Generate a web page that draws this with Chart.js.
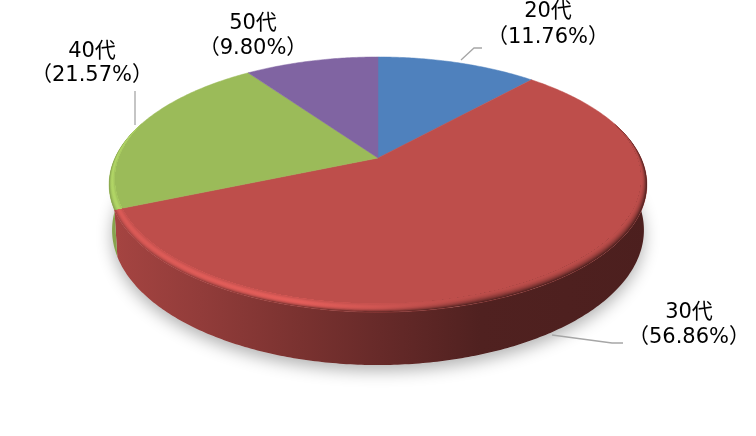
<!DOCTYPE html>
<html>
<head>
<meta charset="utf-8">
<style>
  html, body { margin: 0; background: #fff; }
  canvas { display: block; }
</style>
<script src="https://cdn.jsdelivr.net/npm/chart.js@4/dist/chart.umd.js"></script>
</head>
<body>
<canvas id="pie" width="756" height="436"></canvas>
<script>
// ---------- Data ----------
const categories = ["20代", "30代", "40代", "50代"];
const shares = [11.76, 56.86, 21.57, 9.80];
const colors = ["#4F81BD", "#BE4E4B", "#9BBB59", "#8064A2"];

// ---------- Label layout (text centre, two baselines, leader line) ----------
const labelX = [548, 689, 92, 253];
const labelY = [[17, 43], [318, 343], [57, 81], [29, 54]];
const leaders = [
    [[461, 60], [474, 48], [482, 48]],
    [[552, 335], [612, 343], [623, 343]],
    [[135, 91], [135, 125]],
    []
];

// ---------- Projection of the tilted disc ----------
const PERSPECTIVE = -0.208;
const TILT = 0.464;
const BEVEL = 0.055;

// side shading: [x, how much darker than the face, how bright the rim is]
const wallShade = [
    [105, 0.12, 0.5],
    [200, 0.23, 0.65],
    [300, 0.36, 0.75],
    [380, 0.46, 0.45],
    [480, 0.58, 0],
    [655, 0.6, 0]
];

// g.bevel is 0 on the outer edge, and the inset fades out towards the back of the disc
function project(theta, g) {
    const depth = -Math.cos(theta);
    const inset = (g.bevel || 0) * Math.max(0, (depth + 0.3) / 1.3);
    const k = 1 - inset;
    const w = 1 + PERSPECTIVE * depth;
    return [g.cx + g.r * k * Math.sin(theta) / w, g.cy + g.r * k * TILT * g.squash * depth / w];
}

function trace(ctx, from, to, g) {
    const steps = Math.max(4, Math.ceil(Math.abs(to - from) * 90));
    for (let i = 0; i <= steps; i++) {
        const p = project(from + (to - from) * i / steps, g);
        ctx.lineTo(p[0], p[1]);
    }
}

function rgb(hex) {
    return [1, 3, 5].map(i => parseInt(hex.substr(i, 2), 16));
}

function mix(a, b, t) {
    return a.map((v, i) => v + (b[i] - v) * t);
}

function css(c) {
    return "rgb(" + c.map(v => Math.min(255, Math.round(v))).join(",") + ")";
}

const disc3d = {
    id: "disc3d",
    beforeDatasetDraw(chart) {
        const ctx = chart.ctx;
        const arcs = chart.getDatasetMeta(0).data;
        const a0 = arcs[0];
        const outer = { cx: a0.x, cy: a0.y, r: a0.outerRadius, squash: 1 };
        const base = { cx: a0.x, cy: a0.y + 44, r: a0.outerRadius * 0.989, squash: 1.07 };

        ctx.save();

        // soft shadow under the disc
        ctx.save();
        ctx.shadowColor = "rgba(0,0,0,0.3)";
        ctx.shadowBlur = 16;
        ctx.shadowOffsetY = 6;
        ctx.fillStyle = "#ddd";
        ctx.beginPath();
        trace(ctx, 0, Math.PI * 2, base);
        ctx.closePath();
        ctx.fill();
        ctx.restore();

        // front wall, only the part that faces the viewer
        arcs.forEach((arc, i) => {
            const from = Math.max(arc.startAngle + Math.PI / 2, 80 * Math.PI / 180);
            const to = Math.min(arc.endAngle + Math.PI / 2, 285 * Math.PI / 180);
            if (to <= from) return;
            const face = rgb(colors[i]);
            const grad = ctx.createLinearGradient(105, 0, 655, 0);
            wallShade.forEach(s => grad.addColorStop((s[0] - 105) / 550, css(mix(face, [0, 0, 0], s[1]))));
            ctx.fillStyle = grad;
            ctx.beginPath();
            trace(ctx, from, to, outer);
            trace(ctx, to, from, base);
            ctx.closePath();
            ctx.fill();
        });

        // flat top face
        arcs.forEach((arc, i) => {
            ctx.fillStyle = colors[i];
            ctx.strokeStyle = colors[i];
            ctx.lineWidth = 0.5;
            ctx.beginPath();
            ctx.moveTo(arc.x, arc.y);
            trace(ctx, arc.startAngle + Math.PI / 2, arc.endAngle + Math.PI / 2, outer);
            ctx.closePath();
            ctx.fill();
            ctx.stroke();
        });

        // bevel: strips from the outer edge inwards, each one ending on the flat face
        const layers = 14;
        const flat = Object.assign({}, outer, { bevel: BEVEL });
        arcs.forEach((arc, i) => {
            const from = arc.startAngle + Math.PI / 2;
            const to = arc.endAngle + Math.PI / 2;
            const face = rgb(colors[i]);
            const bright = face.map(v => v * 1.3);
            for (let l = layers; l >= 1; l--) {
                const t = l / layers;
                const edge = Object.assign({}, outer, { bevel: BEVEL * (1 - t) });
                const grad = ctx.createLinearGradient(105, 0, 655, 0);
                wallShade.forEach(s => {
                    const wall = mix(face, [0, 0, 0], s[1]);
                    let c = mix(face, wall, t * t);
                    c = mix(c, bright, s[2] * Math.sin(Math.PI * t));
                    grad.addColorStop((s[0] - 105) / 550, css(c));
                });
                ctx.fillStyle = grad;
                ctx.beginPath();
                trace(ctx, from, to, edge);
                trace(ctx, to, from, flat);
                ctx.closePath();
                ctx.fill();
            }
        });

        ctx.restore();
        return false;
    },
    afterDatasetsDraw(chart) {
        const ctx = chart.ctx;
        ctx.save();
        ctx.strokeStyle = "#A6A6A6";
        ctx.lineWidth = 1.3;
        leaders.forEach(line => {
            if (!line.length) return;
            ctx.beginPath();
            line.forEach((p, i) => i ? ctx.lineTo(p[0], p[1]) : ctx.moveTo(p[0], p[1]));
            ctx.stroke();
        });
        ctx.fillStyle = "#000";
        ctx.textAlign = "center";
        ctx.textBaseline = "alphabetic";
        ctx.font = '21px "DejaVu Sans", "Noto Sans CJK JP"';
        categories.forEach((name, i) => {
            ctx.fillText(name, labelX[i], labelY[i][0]);
            ctx.fillText("（" + shares[i].toFixed(2) + "%）", labelX[i], labelY[i][1]);
        });
        ctx.restore();
    }
};

// ---------- Chart ----------
new Chart(document.getElementById("pie"), {
    type: "pie",
    data: {
        labels: categories,
        datasets: [{
            data: shares,
            backgroundColor: colors,
            borderWidth: 0
        }]
    },
    options: {
        responsive: false,
        animation: false,
        radius: 263,
        layout: { padding: { bottom: 120 } },
        plugins: {
            legend: { display: false },
            tooltip: { enabled: false }
        }
    },
    plugins: [disc3d]
});
</script>
</body>
</html>
